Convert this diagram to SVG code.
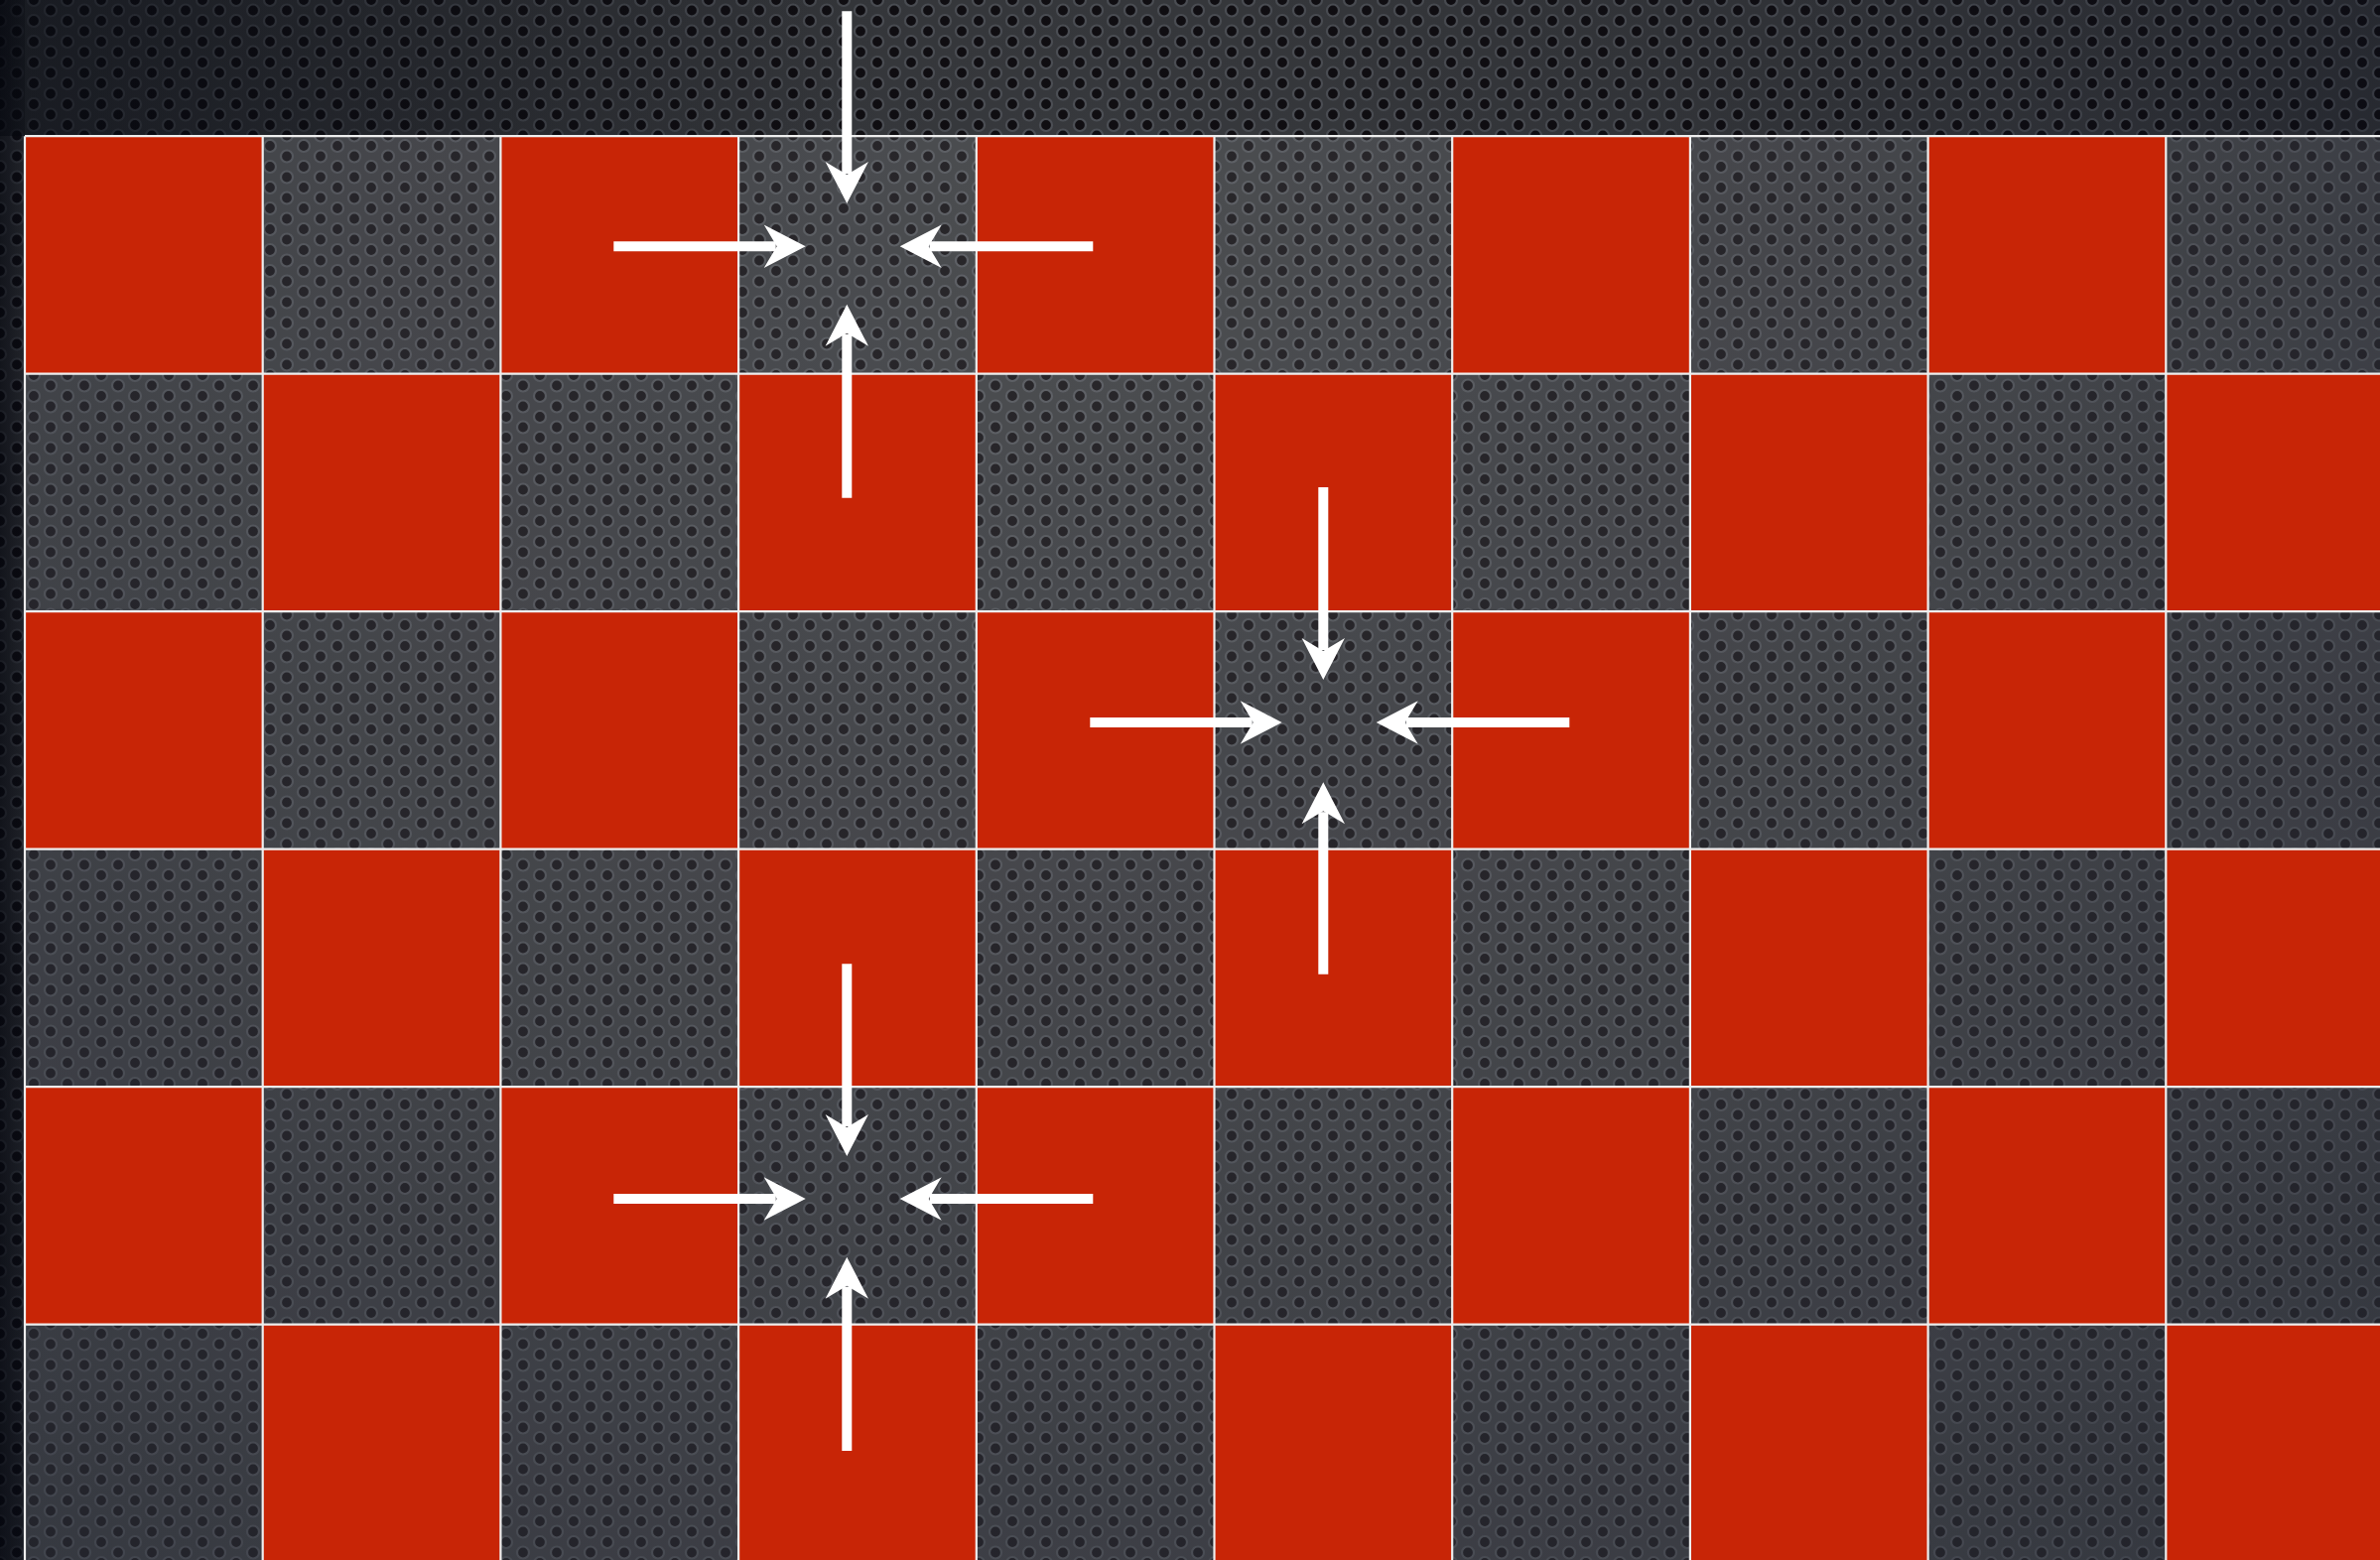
<svg xmlns="http://www.w3.org/2000/svg" width="2398" height="1572" viewBox="0 0 2398 1572">
<defs>
<pattern id="perf" width="34" height="21" patternUnits="userSpaceOnUse">
<rect width="34" height="21" fill="#383a3e"/>
<g fill="#100e12" stroke="#4e5157" stroke-width="2.2">
<circle cx="0" cy="0" r="6"/><circle cx="34" cy="0" r="6"/><circle cx="0" cy="21" r="6"/><circle cx="34" cy="21" r="6"/><circle cx="17" cy="10.5" r="6"/>
</g>
</pattern>
<radialGradient id="light" cx="1100" cy="250" r="1900" gradientUnits="userSpaceOnUse">
<stop offset="0" stop-color="#000" stop-opacity="0"/>
<stop offset="0.5" stop-color="#050814" stop-opacity="0.2"/>
<stop offset="1" stop-color="#050a18" stop-opacity="0.55"/>
</radialGradient>
<linearGradient id="leftshade" x1="0" y1="0" x2="25" y2="0" gradientUnits="userSpaceOnUse">
<stop offset="0" stop-color="#03050c" stop-opacity="0.6"/>
<stop offset="1" stop-color="#03050c" stop-opacity="0.25"/>
</linearGradient>
<linearGradient id="topshade" x1="0" y1="0" x2="900" y2="0" gradientUnits="userSpaceOnUse">
<stop offset="0" stop-color="#05080f" stop-opacity="0.5"/>
<stop offset="1" stop-color="#05080f" stop-opacity="0"/>
</linearGradient>
<marker id="ah" markerUnits="userSpaceOnUse" viewBox="-15 -25 50 50" markerWidth="50" markerHeight="50" refX="0" refY="0" orient="auto">
<path d="M30,0 L-12,-21.7 L1,0 L-12,21.7 Z" fill="#ffffff"/>
</marker>
</defs>
<style>
.red{fill:#c82506}
.dark{fill:#ffffff;fill-opacity:0.1}
.grid{stroke:#eeeeee;stroke-width:2.2;fill:none}
.arrow{stroke:#ffffff;stroke-width:10;fill:none;marker-end:url(#ah)}
</style>
<g id="background">
<rect width="2398" height="1572" fill="url(#perf)"/>
<rect width="2398" height="1572" fill="url(#light)"/>
<rect width="2398" height="137" fill="url(#topshade)"/>
<rect width="25" height="1572" fill="url(#leftshade)"/>
</g>
<g id="board">
<g id="row0">
<rect id="c0-0" class="red" x="25" y="137.2" width="239.7" height="239.5"/>
<rect id="c0-1" class="dark" x="264.7" y="137.2" width="239.7" height="239.5"/>
<rect id="c0-2" class="red" x="504.4" y="137.2" width="239.7" height="239.5"/>
<rect id="c0-3" class="dark" x="744.1" y="137.2" width="239.7" height="239.5"/>
<rect id="c0-4" class="red" x="983.8" y="137.2" width="239.7" height="239.5"/>
<rect id="c0-5" class="dark" x="1223.5" y="137.2" width="239.7" height="239.5"/>
<rect id="c0-6" class="red" x="1463.2" y="137.2" width="239.7" height="239.5"/>
<rect id="c0-7" class="dark" x="1702.9" y="137.2" width="239.7" height="239.5"/>
<rect id="c0-8" class="red" x="1942.6" y="137.2" width="239.7" height="239.5"/>
<rect id="c0-9" class="dark" x="2182.3" y="137.2" width="239.7" height="239.5"/>
</g>
<g id="row1">
<rect id="c1-0" class="dark" x="25" y="376.7" width="239.7" height="239.5"/>
<rect id="c1-1" class="red" x="264.7" y="376.7" width="239.7" height="239.5"/>
<rect id="c1-2" class="dark" x="504.4" y="376.7" width="239.7" height="239.5"/>
<rect id="c1-3" class="red" x="744.1" y="376.7" width="239.7" height="239.5"/>
<rect id="c1-4" class="dark" x="983.8" y="376.7" width="239.7" height="239.5"/>
<rect id="c1-5" class="red" x="1223.5" y="376.7" width="239.7" height="239.5"/>
<rect id="c1-6" class="dark" x="1463.2" y="376.7" width="239.7" height="239.5"/>
<rect id="c1-7" class="red" x="1702.9" y="376.7" width="239.7" height="239.5"/>
<rect id="c1-8" class="dark" x="1942.6" y="376.7" width="239.7" height="239.5"/>
<rect id="c1-9" class="red" x="2182.3" y="376.7" width="239.7" height="239.5"/>
</g>
<g id="row2">
<rect id="c2-0" class="red" x="25" y="616.2" width="239.7" height="239.5"/>
<rect id="c2-1" class="dark" x="264.7" y="616.2" width="239.7" height="239.5"/>
<rect id="c2-2" class="red" x="504.4" y="616.2" width="239.7" height="239.5"/>
<rect id="c2-3" class="dark" x="744.1" y="616.2" width="239.7" height="239.5"/>
<rect id="c2-4" class="red" x="983.8" y="616.2" width="239.7" height="239.5"/>
<rect id="c2-5" class="dark" x="1223.5" y="616.2" width="239.7" height="239.5"/>
<rect id="c2-6" class="red" x="1463.2" y="616.2" width="239.7" height="239.5"/>
<rect id="c2-7" class="dark" x="1702.9" y="616.2" width="239.7" height="239.5"/>
<rect id="c2-8" class="red" x="1942.6" y="616.2" width="239.7" height="239.5"/>
<rect id="c2-9" class="dark" x="2182.3" y="616.2" width="239.7" height="239.5"/>
</g>
<g id="row3">
<rect id="c3-0" class="dark" x="25" y="855.7" width="239.7" height="239.5"/>
<rect id="c3-1" class="red" x="264.7" y="855.7" width="239.7" height="239.5"/>
<rect id="c3-2" class="dark" x="504.4" y="855.7" width="239.7" height="239.5"/>
<rect id="c3-3" class="red" x="744.1" y="855.7" width="239.7" height="239.5"/>
<rect id="c3-4" class="dark" x="983.8" y="855.7" width="239.7" height="239.5"/>
<rect id="c3-5" class="red" x="1223.5" y="855.7" width="239.7" height="239.5"/>
<rect id="c3-6" class="dark" x="1463.2" y="855.7" width="239.7" height="239.5"/>
<rect id="c3-7" class="red" x="1702.9" y="855.7" width="239.7" height="239.5"/>
<rect id="c3-8" class="dark" x="1942.6" y="855.7" width="239.7" height="239.5"/>
<rect id="c3-9" class="red" x="2182.3" y="855.7" width="239.7" height="239.5"/>
</g>
<g id="row4">
<rect id="c4-0" class="red" x="25" y="1095.2" width="239.7" height="239.5"/>
<rect id="c4-1" class="dark" x="264.7" y="1095.2" width="239.7" height="239.5"/>
<rect id="c4-2" class="red" x="504.4" y="1095.2" width="239.7" height="239.5"/>
<rect id="c4-3" class="dark" x="744.1" y="1095.2" width="239.7" height="239.5"/>
<rect id="c4-4" class="red" x="983.8" y="1095.2" width="239.7" height="239.5"/>
<rect id="c4-5" class="dark" x="1223.5" y="1095.2" width="239.7" height="239.5"/>
<rect id="c4-6" class="red" x="1463.2" y="1095.2" width="239.7" height="239.5"/>
<rect id="c4-7" class="dark" x="1702.9" y="1095.2" width="239.7" height="239.5"/>
<rect id="c4-8" class="red" x="1942.6" y="1095.2" width="239.7" height="239.5"/>
<rect id="c4-9" class="dark" x="2182.3" y="1095.2" width="239.7" height="239.5"/>
</g>
<g id="row5">
<rect id="c5-0" class="dark" x="25" y="1334.7" width="239.7" height="239.5"/>
<rect id="c5-1" class="red" x="264.7" y="1334.7" width="239.7" height="239.5"/>
<rect id="c5-2" class="dark" x="504.4" y="1334.7" width="239.7" height="239.5"/>
<rect id="c5-3" class="red" x="744.1" y="1334.7" width="239.7" height="239.5"/>
<rect id="c5-4" class="dark" x="983.8" y="1334.7" width="239.7" height="239.5"/>
<rect id="c5-5" class="red" x="1223.5" y="1334.7" width="239.7" height="239.5"/>
<rect id="c5-6" class="dark" x="1463.2" y="1334.7" width="239.7" height="239.5"/>
<rect id="c5-7" class="red" x="1702.9" y="1334.7" width="239.7" height="239.5"/>
<rect id="c5-8" class="dark" x="1942.6" y="1334.7" width="239.7" height="239.5"/>
<rect id="c5-9" class="red" x="2182.3" y="1334.7" width="239.7" height="239.5"/>
</g>
<path id="gridlines" class="grid" d="M25,137.2V1572 M264.7,137.2V1572 M504.4,137.2V1572 M744.1,137.2V1572 M983.8,137.2V1572 M1223.5,137.2V1572 M1463.2,137.2V1572 M1702.9,137.2V1572 M1942.6,137.2V1572 M2182.3,137.2V1572 M25,137.2H2398 M25,376.7H2398 M25,616.2H2398 M25,855.7H2398 M25,1095.2H2398 M25,1334.7H2398"/>
</g>
<g id="connectors">
<g id="arrows-1">
<line class="arrow" x1="853.3" y1="11.3" x2="853.3" y2="175"/>
<line class="arrow" x1="853.3" y1="501.8" x2="853.3" y2="336.7"/>
<line class="arrow" x1="618.3" y1="248.3" x2="781.7" y2="248.3"/>
<line class="arrow" x1="1101.3" y1="248.3" x2="936.7" y2="248.3"/>
</g>
<g id="arrows-2">
<line class="arrow" x1="1333.3" y1="491" x2="1333.3" y2="655"/>
<line class="arrow" x1="1333.3" y1="981.8" x2="1333.3" y2="818.3"/>
<line class="arrow" x1="1098.3" y1="728" x2="1261.7" y2="728"/>
<line class="arrow" x1="1581.3" y1="728" x2="1416.7" y2="728"/>
</g>
<g id="arrows-3">
<line class="arrow" x1="853.3" y1="971.3" x2="853.3" y2="1135"/>
<line class="arrow" x1="853.3" y1="1462" x2="853.3" y2="1296.7"/>
<line class="arrow" x1="618.3" y1="1208" x2="781.7" y2="1208"/>
<line class="arrow" x1="1101.3" y1="1208" x2="936.7" y2="1208"/>
</g>
</g>
</svg>
